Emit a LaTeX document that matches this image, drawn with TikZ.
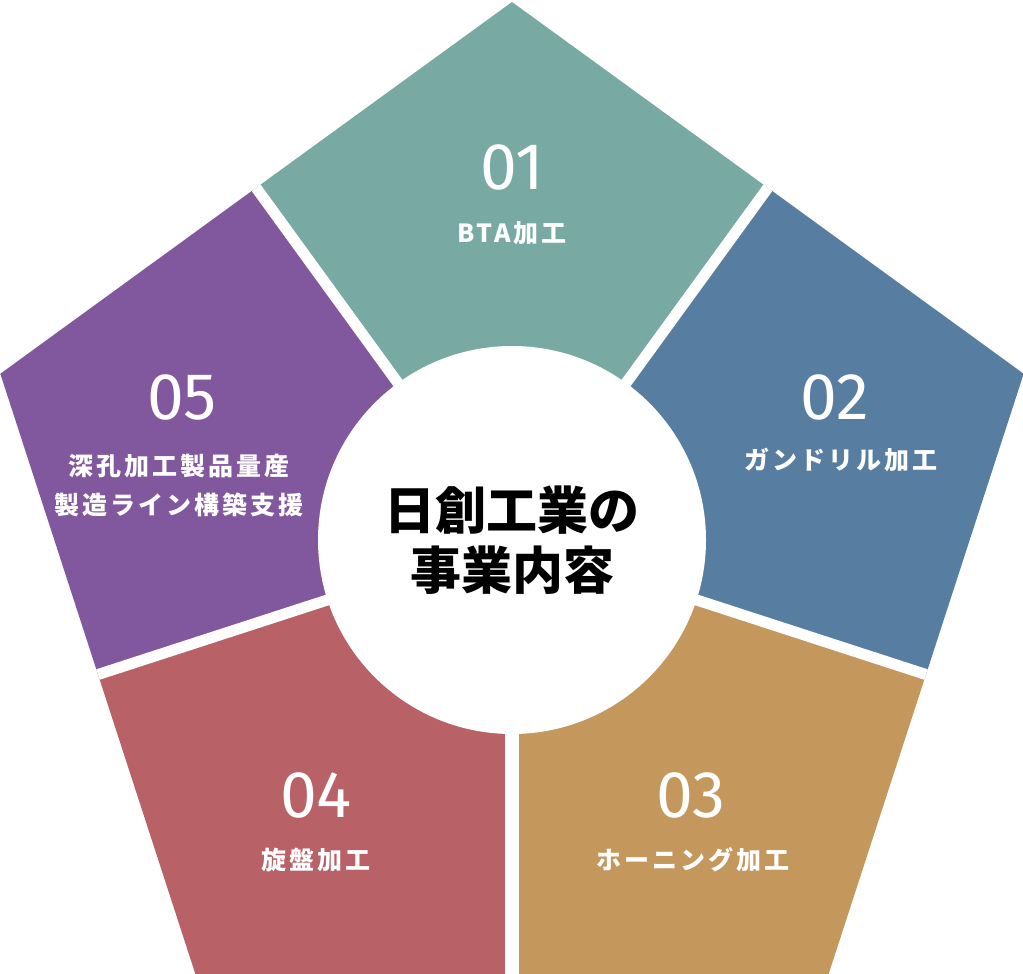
\documentclass[tikz,border=0pt]{standalone}
\usepackage{fontspec}
\usetikzlibrary{positioning}

\newfontfamily\numfont{Fira Sans}
\newfontfamily\jpfont{Noto Sans CJK JP}
\newfontfamily\jplabfont{Noto Sans CJK JP}[LetterSpace=12]

\definecolor{segteal}{RGB}{120,169,162}
\definecolor{segblue}{RGB}{87,126,160}
\definecolor{seggold}{RGB}{196,151,92}
\definecolor{segred}{RGB}{184,98,104}
\definecolor{segpurple}{RGB}{129,87,158}

\begin{document}
\begin{tikzpicture}[x=1pt, y=1pt,
    gapline/.style={white, line width=11pt},
    num/.style={text=white, inner sep=0pt, font=\numfont\fontsize{66}{66}\selectfont},
    lab/.style={text=white, inner sep=0pt, align=center, font=\jplabfont\bfseries\fontsize{25}{39}\selectfont}]

    \useasboundingbox (0,0) rectangle (1023,-974);

    % Corners and edge midpoints
    \coordinate (O) at (512,-540);
    \coordinate (V1) at ([shift={(90:538)}]O);
    \coordinate (V2) at ([shift={(18:538)}]O);
    \coordinate (V3) at ([shift={(-54:538)}]O);
    \coordinate (V4) at ([shift={(-126:538)}]O);
    \coordinate (V5) at ([shift={(162:538)}]O);
    \coordinate (M12) at ([shift={(54:435.3)}]O);
    \coordinate (M23) at ([shift={(-18:435.3)}]O);
    \coordinate (M34) at ([shift={(-90:435.3)}]O);
    \coordinate (M45) at ([shift={(-162:435.3)}]O);
    \coordinate (M51) at ([shift={(126:435.3)}]O);

    % Segments
    \fill[segteal] (O) -- (M51) -- (V1) -- (M12) -- cycle;
    \fill[segblue] (O) -- (M12) -- (V2) -- (M23) -- cycle;
    \fill[seggold] (O) -- (M23) -- (V3) -- (M34) -- cycle;
    \fill[segred] (O) -- (M34) -- (V4) -- (M45) -- cycle;
    \fill[segpurple] (O) -- (M45) -- (V5) -- (M51) -- cycle;

    % Gaps
    \draw[gapline] (O) -- (M12);
    \draw[gapline] (O) -- (M23);
    \draw[gapline, line width=14pt] (O) -- (M34);
    \draw[gapline] (O) -- (M45);
    \draw[gapline] (O) -- (M51);

    % Centre disc
    \fill[white] (O) circle (194);
    \node (title) at (O) [align=center, inner sep=0pt, font=\jpfont\bfseries\fontsize{51}{60}\selectfont] {日創工業の\\事業内容};

    % Numbers and labels
    \node (num1) at (512,-167) [num] {01};
    \node (lab1) at (512,-233) [lab] {BTA加工};

    \node (num2) at (835,-397) [num] {02};
    \node (lab2) at (841,-460) [lab] {ガンドリル加工};

    \node (num3) at (691,-795) [num] {03};
    \node (lab3) at (693,-860) [lab] {ホーニング加工};

    \node (num4) at (316,-795) [num] {04};
    \node (lab4) at (316,-860) [lab] {旋盤加工};

    \node (num5) at (182,-397) [num] {05};
    \node (lab5) at (179,-485.5) [lab] {深孔加工製品量産\\製造ライン構築支援};

\end{tikzpicture}
\end{document}
